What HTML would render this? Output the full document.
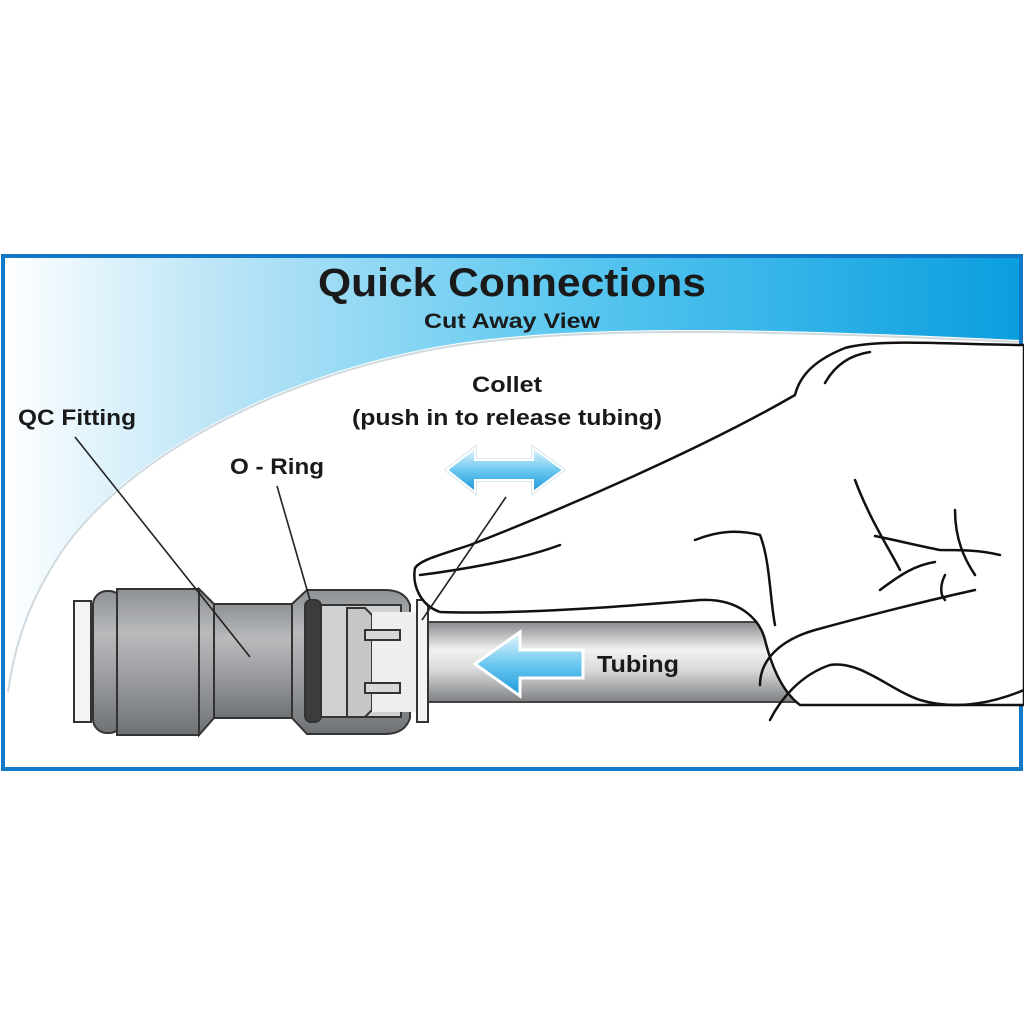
<!DOCTYPE html>
<html><head><style>
html,body{margin:0;padding:0;background:#fff;width:1024px;height:1024px;overflow:hidden}
svg{display:block}
text{font-family:"Liberation Sans",sans-serif;font-weight:bold;fill:#1a1a1a}
</style></head><body>
<svg width="1024" height="1024" viewBox="0 0 1024 1024">
<defs>
<linearGradient id="sky" x1="0" y1="0" x2="1" y2="0">
<stop offset="0" stop-color="#ffffff"/>
<stop offset="0.2" stop-color="#bfe6f7"/>
<stop offset="0.55" stop-color="#5cc8f0"/>
<stop offset="1" stop-color="#0a9edf"/>
</linearGradient>
<linearGradient id="metal" x1="0" y1="0" x2="0" y2="1">
<stop offset="0" stop-color="#8e9194"/>
<stop offset="0.3" stop-color="#b8babc"/>
<stop offset="0.6" stop-color="#9c9ea1"/>
<stop offset="1" stop-color="#6f7275"/>
</linearGradient>
<linearGradient id="tube" x1="0" y1="0" x2="0" y2="1">
<stop offset="0" stop-color="#8a8c8f"/>
<stop offset="0.35" stop-color="#f2f2f2"/>
<stop offset="0.6" stop-color="#d8d9da"/>
<stop offset="1" stop-color="#7d8083"/>
</linearGradient>
<linearGradient id="arr" x1="0" y1="0" x2="0" y2="1">
<stop offset="0" stop-color="#e8f7fd"/>
<stop offset="0.5" stop-color="#6cc8f0"/>
<stop offset="1" stop-color="#1c98d8"/>
</linearGradient>
</defs>
<rect x="3" y="256" width="1018" height="513" fill="#fff"/>
<path d="M3 256 H1021 V340 C800 330 560 320 420 350 C250 385 110 470 55 560 C30 600 15 640 8 690 L3 690 Z" fill="url(#sky)"/>
<path d="M1021 342 C800 332 560 322 420 352 C250 387 110 472 55 562 C30 602 15 642 8 692" fill="none" stroke="#9fb3bd" stroke-width="2" opacity="0.5"/>
<rect x="3" y="256" width="1018" height="513" fill="none" stroke="#1278c8" stroke-width="4"/>

<text x="512" y="296" font-size="40" text-anchor="middle" textLength="388" lengthAdjust="spacingAndGlyphs">Quick Connections</text>
<text x="512" y="328" font-size="21" text-anchor="middle" textLength="176" lengthAdjust="spacingAndGlyphs">Cut Away View</text>
<text x="507" y="392" font-size="22" text-anchor="middle" textLength="70" lengthAdjust="spacingAndGlyphs">Collet</text>
<text x="507" y="425" font-size="22" text-anchor="middle" textLength="310" lengthAdjust="spacingAndGlyphs">(push in to release tubing)</text>
<text x="18" y="425" font-size="22" textLength="118" lengthAdjust="spacingAndGlyphs">QC Fitting</text>
<text x="230" y="474" font-size="22" textLength="94" lengthAdjust="spacingAndGlyphs">O - Ring</text>

<!-- tubing -->
<rect x="425" y="622" width="600" height="80" fill="url(#tube)" stroke="#444" stroke-width="2"/>
<text x="597" y="672" font-size="23" textLength="82" lengthAdjust="spacingAndGlyphs">Tubing</text>
<path d="M475 664 L520 632 L520 650 L583 650 L583 678 L520 678 L520 696 Z" fill="url(#arr)" stroke="#fff" stroke-width="3"/>
<path d="M447 470 L475 448 L475 460 L533 460 L533 448 L563 470 L533 492 L533 480 L475 480 L475 492 Z" fill="url(#arr)" stroke="#d6e6ee" stroke-width="4"/>
<path d="M447 470 L475 448 L475 460 L533 460 L533 448 L563 470 L533 492 L533 480 L475 480 L475 492 Z" fill="url(#arr)" stroke="#fff" stroke-width="2"/>

<!-- fitting -->
<g stroke="#333" stroke-width="2">
<rect x="74" y="601" width="17" height="121" fill="#f4f4f4"/>
<rect x="93" y="591" width="30" height="142" rx="14" fill="url(#metal)"/>
<rect x="117" y="589" width="82" height="146" fill="url(#metal)"/>
<path d="M199 589 L214 604 V718 L199 735 Z" fill="url(#metal)"/>
<rect x="214" y="604" width="78" height="114" fill="url(#metal)"/>
<path d="M292 604 L307 590 H385 Q405 590 410 605 V718 Q405 734 385 734 H307 L292 718 Z" fill="url(#metal)"/>
<rect x="305" y="600" width="16" height="122" rx="6" fill="#3a3c3e"/>
<rect x="321" y="605" width="80" height="112" fill="#cfd1d3"/>
<path d="M347 608 H365 L372 615 V710 L365 717 H347 Z" fill="#c4c6c8"/>
<rect x="372" y="612" width="45" height="100" fill="#eeeeee" stroke="none"/>
<rect x="365" y="630" width="35" height="10" fill="#d8d8d8"/>
<rect x="365" y="683" width="35" height="10" fill="#d8d8d8"/>
<rect x="417" y="600" width="11" height="122" fill="#f4f4f4"/>
</g>

<!-- hand -->
<g stroke="#111" stroke-width="2.5" fill="#fff" stroke-linejoin="round">
<path d="M1024 345 C960 345 880 338 845 348 C815 360 800 375 795 395 C700 450 560 510 470 545 C440 555 420 560 415 568 C412 585 420 605 440 612 C520 615 640 605 700 600 C740 598 760 620 765 640 C770 660 780 690 800 705 L1024 705 Z" />
</g>
<g stroke="#111" stroke-width="2.5" fill="none" stroke-linecap="round">
<path d="M760 685 C760 660 780 640 815 630 C870 615 930 600 975 590"/>
<path d="M770 720 C780 700 800 675 830 665 C860 660 890 690 920 700 C960 712 1000 700 1024 690"/>
<path d="M875 536 C895 540 915 545 940 550 C960 550 980 550 1000 555"/>
<path d="M695 540 C720 530 740 530 760 535 C770 560 770 600 775 625"/>
<path d="M420 575 C460 570 520 560 560 545"/>
<path d="M825 383 C835 365 850 355 870 352"/>
<path d="M855 480 C870 520 890 550 900 570"/>
<path d="M955 510 C955 540 965 560 975 575"/>
<path d="M880 590 C900 575 915 565 935 562"/>
<path d="M945 575 C940 585 940 595 945 600"/>
</g>

<!-- leader lines -->
<g stroke="#222" stroke-width="1.6" fill="none">
<line x1="75" y1="437" x2="250" y2="657"/>
<line x1="277" y1="486" x2="310" y2="600"/>
<line x1="506" y1="497" x2="422" y2="620"/>
</g>
</svg>
</body></html>
